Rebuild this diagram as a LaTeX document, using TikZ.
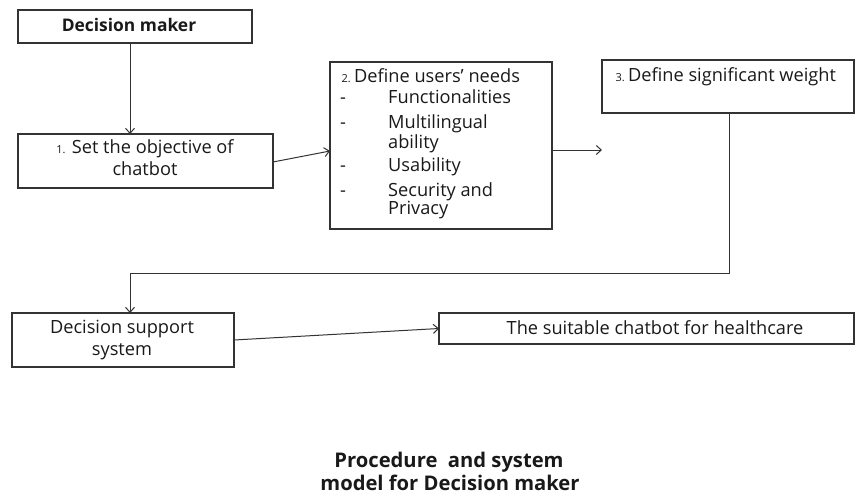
\documentclass[tikz,border=0pt]{standalone}
\usepackage{fontspec}
\setmainfont{Open Sans}
\usetikzlibrary{arrows.meta}
\begin{document}
\begin{tikzpicture}[x=1pt,y=-1pt,
 box/.style={draw=black!80, line width=1.2pt, inner sep=0pt, outer sep=0pt},
 lbl/.style={inner sep=0pt, font=\fontsize{18.2}{22}\selectfont, text=black!90},
 item/.style={lbl, anchor=base west},
 num/.style={inner sep=0pt, anchor=base east, font=\fontsize{11}{12}\selectfont, text=black!90},
 bold/.style={lbl, font=\fontsize{17.4}{22}\selectfont\bfseries},
 capt/.style={lbl, font=\fontsize{20.2}{22}\selectfont\bfseries},
 arr/.style={draw=black!80, line width=1pt, -{Straight Barb[length=5pt,width=9pt]}}]
\useasboundingbox (0,0) rectangle (856,495);
% boxes
\node[box, line width=2.6pt, minimum width=234pt, minimum height=33pt] (dm) at (135,26.5) {};
\node[box, minimum width=255pt, minimum height=54pt] (b1) at (145.5,161) {};
\node[box, minimum width=222pt, minimum height=167pt] (b2) at (441,145.5) {};
\node[box, minimum width=252pt, minimum height=53pt] (b3) at (728,86.5) {};
\node[box, minimum width=222pt, minimum height=54pt] (dss) at (123,340) {};
\node[box, minimum width=415pt, minimum height=31pt] (suit) at (646.5,328.5) {};
% texts
\node[bold] (tdm) at (129,25) {Decision maker};
\node[lbl, align=center] (t1) at (145,158) {{\fontsize{11}{12}\selectfont 1.} Set the objective of\\chatbot};
\node[num] (n2) at (351,82.5) {2.};
\node[item] (t2) at (354,82.5) {Define users’ needs};
\node[item] (d1) at (340,103.5) {-};
\node[item] (i1) at (388,103.5) {Functionalities};
\node[item] (d2) at (340,128.5) {-};
\node[item] (i2) at (388,128.5) {Multilingual};
\node[item] (i2b) at (388,148.5) {ability};
\node[item] (d3) at (340,171.5) {-};
\node[item] (i3) at (388,171.5) {Usability};
\node[item] (d4) at (340,196.5) {-};
\node[item] (i4) at (388,196.5) {Security and};
\node[item] (i4b) at (388,214.5) {Privacy};
\node[num] (n3) at (625,81.5) {3.};
\node[item] (t3) at (628,81.5) {Define significant weight};
\node[lbl, align=center] (tds) at (122,340) {Decision support\\system};
\node[lbl] (ts) at (655,328) {The suitable chatbot for healthcare};
\node[capt] (cap1) at (449,462) {Procedure\ \ and system};
\node[capt] (cap2) at (450,483) {model for Decision maker};
% connectors
\coordinate (a3) at (602,150);
\draw[arr] ([xshift=-5pt]dm.south) -- ([xshift=-15.5pt]b1.north);
\draw[arr] ([yshift=-1pt]b1.east) -- ([yshift=-5.5pt]b2.west);
\draw[arr] ([yshift=-4.5pt]b2.east) -- (a3);
\draw[arr] ([xshift=1pt]b3.south) -- ++(0,160) -| ([xshift=7pt]dss.north);
\draw[arr] (dss.east) -- (suit.west);
\end{tikzpicture}
\end{document}
